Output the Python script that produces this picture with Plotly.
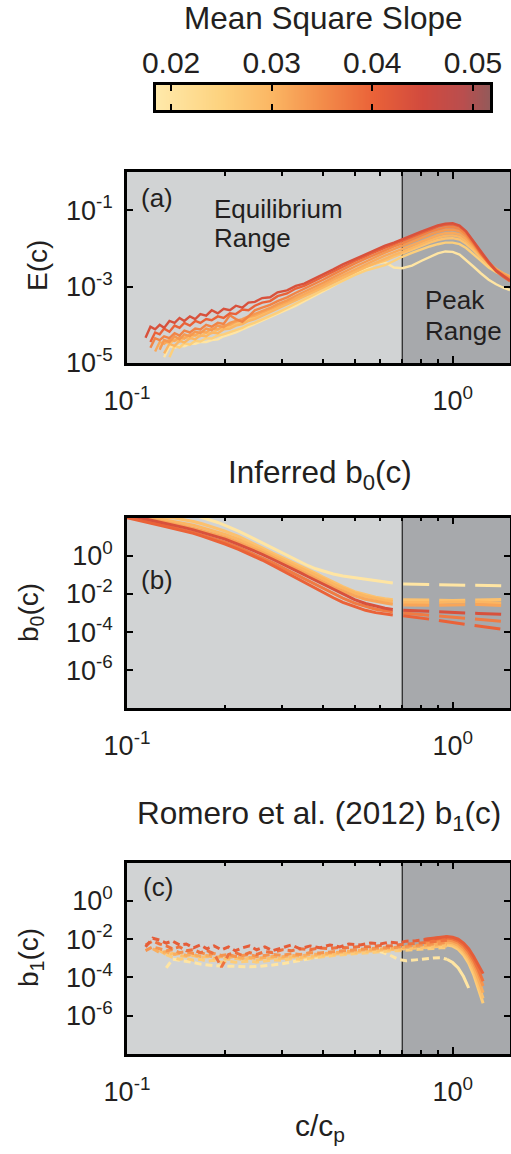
import math
import plotly.graph_objects as go
from plotly.colors import sample_colorscale

W, H = 511, 1154
FONT = "Liberation Sans, Arial, Helvetica, sans-serif"
INK = "#231F20"

# ---------------- colour scale: mean square slope ----------------
mss_min, mss_max = 0.0185, 0.0517
mss_scale = [
    [0.000, "#FFE9AA"], [0.196, "#FDD27E"], [0.346, "#FBB663"],
    [0.497, "#F38C4A"], [0.648, "#EA6238"], [0.798, "#D14A3E"],
    [0.919, "#B94E4E"], [1.000, "#935A5A"],
]
cbar_ticks = [0.02, 0.03, 0.04, 0.05]
cbar_ticktext = ["0.02", "0.03", "0.04", "0.05"]

# ---------------- (a) spectra E(c), values are log10 E ----------------
c_a = [0.114, 0.118, 0.122, 0.126, 0.13, 0.135, 0.14, 0.145, 0.15, 0.156,
       0.162, 0.168, 0.175, 0.182, 0.19, 0.198, 0.207, 0.216, 0.226, 0.236,
       0.247, 0.26, 0.275, 0.29, 0.31, 0.33, 0.35, 0.375, 0.40, 0.43,
       0.46, 0.50, 0.54, 0.58, 0.62, 0.66, 0.70, 0.75, 0.80, 0.85,
       0.90, 0.95, 1.00, 1.05, 1.10, 1.16, 1.22, 1.29, 1.36, 1.43, 1.50]
mss_a = [0.0195, 0.0255, 0.028, 0.030, 0.0315, 0.0335, 0.036, 0.040, 0.0435]
logE_1 = [None, None, None, None, -4.85, -4.56, -4.60, -4.55, -4.56, -4.50,
          -4.50, -4.45, -4.45, -4.40, -4.38, -4.30, -4.25, -4.20, -4.12, -4.05,
          -3.97, -3.88, -3.80, -3.70, -3.60, -3.50, -3.38, -3.25, -3.12, -2.98,
          -2.84, -2.68, -2.52, -2.40, -2.36, -2.50, -2.52, -2.45, -2.33, -2.22,
          -2.13, -2.08, -2.09, -2.16, -2.30, -2.48, -2.65, -2.82, -2.94, -3.03, -3.09]
logE_2 = [None, None, None, None, None, -4.85, -4.55, -4.60, -4.48, -4.52,
          -4.42, -4.44, -4.35, -4.36, -4.28, -4.25, -4.20, -4.14, -4.08, -4.00,
          -3.94, -3.86, -3.77, -3.68, -3.56, -3.45, -3.34, -3.21, -3.09, -2.96,
          -2.84, -2.70, -2.58, -2.50, -2.44, -2.33, -2.22, -2.12, -2.03, -1.95,
          -1.89, -1.85, -1.85, -1.89, -1.99, -2.15, -2.32, -2.50, -2.62, -2.71, -2.78]
logE_3 = [None, None, None, -4.60, -4.42, -4.50, -4.38, -4.44, -4.32, -4.36,
          -4.26, -4.30, -4.20, -4.22, -4.12, -4.10, -4.04, -3.98, -3.94, -3.86,
          -3.80, -3.72, -3.64, -3.55, -3.44, -3.34, -3.24, -3.12, -3.00, -2.87,
          -2.75, -2.61, -2.49, -2.40, -2.32, -2.22, -2.13, -2.03, -1.93, -1.85,
          -1.78, -1.74, -1.73, -1.77, -1.88, -2.05, -2.24, -2.43, -2.57, -2.67, -2.74]
logE_4 = [None, None, None, None, -4.75, -4.50, -4.55, -4.42, -4.46, -4.35,
          -4.38, -4.28, -4.30, -4.20, -4.22, -4.12, -4.10, -4.02, -3.98, -3.90,
          -3.85, -3.76, -3.68, -3.58, -3.47, -3.36, -3.26, -3.14, -3.02, -2.88,
          -2.76, -2.62, -2.49, -2.37, -2.26, -2.17, -2.09, -1.98, -1.88, -1.79,
          -1.72, -1.67, -1.66, -1.70, -1.81, -1.99, -2.19, -2.39, -2.54, -2.65, -2.73]
logE_5 = [None, None, -4.70, -4.45, -4.50, -4.38, -4.42, -4.32, -4.36, -4.25,
          -4.28, -4.18, -4.20, -4.10, -4.12, -4.02, -4.00, -3.92, -3.88, -3.80,
          -3.76, -3.68, -3.60, -3.50, -3.40, -3.30, -3.20, -3.08, -2.96, -2.82,
          -2.70, -2.55, -2.42, -2.30, -2.19, -2.10, -2.02, -1.91, -1.81, -1.72,
          -1.65, -1.60, -1.59, -1.63, -1.75, -1.95, -2.17, -2.38, -2.54, -2.66, -2.75]
logE_6 = [None, None, None, -4.65, -4.40, -4.45, -4.30, -4.38, -4.25, -4.30,
          -4.18, -4.22, -4.10, -4.14, -4.02, -4.06, -3.95, -3.90, -3.85, -3.78,
          -3.72, -3.64, -3.56, -3.46, -3.36, -3.24, -3.14, -3.02, -2.90, -2.76,
          -2.63, -2.48, -2.35, -2.22, -2.11, -2.02, -1.94, -1.83, -1.73, -1.64,
          -1.57, -1.52, -1.51, -1.55, -1.68, -1.91, -2.15, -2.38, -2.56, -2.68, -2.78]
logE_7 = [None, -4.60, -4.35, -4.40, -4.30, -4.35, -4.22, -4.28, -4.15, -4.20,
          -4.10, -4.12, -4.00, -4.05, -3.95, -3.98, -3.75, -3.85, -3.92, -3.78,
          -3.62, -3.55, -3.48, -3.38, -3.28, -3.16, -3.06, -2.94, -2.82, -2.68,
          -2.55, -2.40, -2.27, -2.15, -2.04, -1.95, -1.87, -1.76, -1.66, -1.57,
          -1.50, -1.45, -1.44, -1.49, -1.63, -1.88, -2.14, -2.38, -2.57, -2.71, -2.81]
logE_8 = [None, -4.45, -4.20, -4.25, -4.10, -4.18, -4.02, -4.08, -3.95, -4.02,
          -3.90, -3.95, -3.85, -3.88, -3.78, -3.82, -3.70, -3.72, -3.60, -3.62,
          -3.50, -3.42, -3.38, -3.25, -3.18, -3.05, -2.98, -2.86, -2.74, -2.60,
          -2.48, -2.33, -2.20, -2.08, -1.98, -1.89, -1.81, -1.70, -1.60, -1.51,
          -1.43, -1.38, -1.37, -1.42, -1.57, -1.84, -2.12, -2.38, -2.60, -2.74, -2.86]
logE_9 = [-4.34, -4.05, -4.12, -4.00, -4.08, -3.90, -3.95, -3.82, -3.90, -3.78,
          -3.85, -3.72, -3.76, -3.62, -3.70, -3.58, -3.62, -3.50, -3.55, -3.42,
          -3.40, -3.30, -3.28, -3.15, -3.10, -2.98, -2.92, -2.80, -2.68, -2.55,
          -2.42, -2.28, -2.15, -2.03, -1.93, -1.85, -1.77, -1.66, -1.56, -1.47,
          -1.40, -1.35, -1.34, -1.40, -1.55, -1.82, -2.08, -2.35, -2.58, -2.72, -2.84]
logE_a = [logE_1, logE_2, logE_3, logE_4, logE_5, logE_6, logE_7, logE_8, logE_9]

# ---------------- (b) inferred b0(c), values are log10 b0 ----------------
c_b_eq = [0.10, 0.11, 0.12, 0.13, 0.14, 0.15, 0.16, 0.17, 0.18, 0.19,
          0.20, 0.22, 0.24, 0.26, 0.28, 0.30, 0.32, 0.34, 0.36, 0.38,
          0.40, 0.43, 0.46, 0.50, 0.54, 0.58, 0.62, 0.655]
c_b_pk = [0.705, 0.80, 0.90, 1.00, 1.10, 1.20, 1.30, 1.45]
mss_b = [0.0195, 0.028, 0.030, 0.032, 0.0435, 0.037, 0.040]
logb0_eq = [
    [3.0, 2.8, 2.65, 2.5, 2.4, 2.3, 2.15, 2.02, 1.9, 1.75, 1.6, 1.3, 0.98, 0.68,
     0.4, 0.12, -0.12, -0.34, -0.52, -0.68, -0.8, -0.95, -1.06, -1.15, -1.24, -1.33, -1.40, -1.43],
    [2.3, 2.2, 2.1, 2.02, 1.98, 1.9, 1.8, 1.68, 1.55, 1.42, 1.3, 1.02, 0.72, 0.42,
     0.14, -0.1, -0.3, -0.5, -0.72, -0.92, -1.12, -1.4, -1.62, -1.88, -2.05, -2.17, -2.25, -2.30],
    [2.25, 2.12, 2.0, 1.9, 1.82, 1.72, 1.6, 1.48, 1.36, 1.24, 1.12, 0.86, 0.58, 0.3,
     0.04, -0.2, -0.4, -0.6, -0.82, -1.02, -1.2, -1.48, -1.7, -1.95, -2.12, -2.25, -2.34, -2.40],
    [2.2, 2.05, 1.92, 1.8, 1.68, 1.56, 1.44, 1.32, 1.2, 1.08, 0.96, 0.7, 0.44, 0.18,
     -0.08, -0.32, -0.54, -0.76, -0.98, -1.18, -1.36, -1.64, -1.86, -2.1, -2.28, -2.4, -2.48, -2.54],
    [2.15, 2.0, 1.86, 1.72, 1.6, 1.48, 1.36, 1.24, 1.12, 1.0, 0.88, 0.6, 0.34, 0.08,
     -0.18, -0.42, -0.66, -0.88, -1.1, -1.3, -1.5, -1.78, -2.02, -2.3, -2.5, -2.65, -2.75, -2.82],
    [2.05, 1.9, 1.74, 1.6, 1.46, 1.34, 1.22, 1.08, 0.96, 0.84, 0.72, 0.44, 0.16, -0.1,
     -0.36, -0.62, -0.86, -1.08, -1.3, -1.5, -1.7, -1.98, -2.22, -2.48, -2.66, -2.8, -2.88, -2.94],
    [2.0, 1.85, 1.7, 1.55, 1.42, 1.3, 1.18, 1.03, 0.9, 0.76, 0.62, 0.34, 0.06, -0.22,
     -0.5, -0.78, -1.04, -1.28, -1.5, -1.72, -1.92, -2.2, -2.44, -2.68, -2.86, -2.98, -3.06, -3.11],
]
logb0_pk = [
    [-1.48, -1.50, -1.52, -1.53, -1.54, -1.55, -1.56, -1.58],
    [-2.30, -2.32, -2.35, -2.34, -2.33, -2.32, -2.30, -2.28],
    [-2.45, -2.47, -2.45, -2.42, -2.40, -2.42, -2.45, -2.48],
    [-2.58, -2.60, -2.60, -2.58, -2.55, -2.55, -2.58, -2.62],
    [-2.85, -2.90, -2.95, -2.98, -3.00, -3.02, -3.05, -3.08],
    [-3.00, -3.08, -3.15, -3.22, -3.28, -3.34, -3.40, -3.45],
    [-3.15, -3.25, -3.38, -3.50, -3.60, -3.70, -3.78, -3.88],
]

# ---------------- (c) Romero et al. (2012) b1(c), values are log10 b1 ----------------
c_c_eq = [0.114, 0.12, 0.126, 0.132, 0.138, 0.145, 0.152, 0.16, 0.168, 0.176,
          0.185, 0.195, 0.205, 0.215, 0.226, 0.238, 0.25, 0.265, 0.28, 0.30,
          0.32, 0.34, 0.365, 0.39, 0.42, 0.45, 0.48, 0.52, 0.56, 0.60,
          0.64, 0.68, 0.72, 0.77, 0.82, 0.87, 0.92, 0.96]
c_c_pk = [0.82, 0.87, 0.92, 0.96, 1.00, 1.04, 1.08, 1.12, 1.16, 1.20, 1.24]
mss_c = [0.0195, 0.026, 0.028, 0.031, 0.034, 0.038, 0.041]
logb1_eq = [
    [None, None, None, -3.50, -3.05, -3.10, -3.15, -3.22, -3.30, -3.35,
     -3.38, -3.40, -3.42, -3.43, -3.43, -3.44, -3.43, -3.40, -3.35, -3.28,
     -3.20, -3.12, -3.02, -2.92, -2.80, -2.70, -2.62, -2.56, -2.56, -2.65,
     -2.82, -3.05, -3.13, -3.08, -3.02, -2.98, -2.97, -3.05],
    [None, None, None, -2.80, -2.95, -3.05, -3.00, -3.10, -3.05, -3.15,
     -3.10, -3.20, -3.15, -3.20, -3.18, -3.15, -3.20, -3.12, -3.08, -3.10,
     -3.02, -3.05, -2.98, -2.95, -2.88, -2.82, -2.78, -2.72, -2.68, -2.64,
     -2.62, -2.60, -2.58, -2.55, -2.50, -2.48, -2.45, -2.45],
    [None, None, -2.60, -2.80, -2.75, -2.85, -2.90, -2.85, -2.95, -2.90,
     -3.00, -2.95, -3.05, -3.00, -3.05, -3.00, -3.08, -3.02, -2.98, -3.00,
     -2.92, -2.95, -2.88, -2.85, -2.80, -2.75, -2.70, -2.65, -2.62, -2.58,
     -2.55, -2.52, -2.50, -2.47, -2.42, -2.40, -2.36, -2.35],
    [None, -2.50, -2.70, -2.65, -2.80, -2.75, -2.85, -2.80, -2.90, -2.85,
     -2.95, -2.90, -2.95, -2.90, -3.00, -2.95, -3.00, -2.95, -2.90, -2.92,
     -2.85, -2.88, -2.80, -2.78, -2.72, -2.68, -2.62, -2.58, -2.55, -2.50,
     -2.48, -2.45, -2.42, -2.40, -2.35, -2.32, -2.28, -2.25],
    [-2.60, -2.40, -2.50, -2.60, -2.55, -2.70, -2.65, -2.75, -2.70, -2.80,
     -2.75, -2.85, -2.80, -2.90, -2.85, -2.80, -2.90, -2.85, -2.80, -2.85,
     -2.75, -2.80, -2.70, -2.72, -2.65, -2.62, -2.58, -2.52, -2.50, -2.45,
     -2.45, -2.40, -2.35, -2.33, -2.28, -2.25, -2.20, -2.18],
    [-2.30, -2.10, -2.25, -2.35, -2.50, -2.40, -2.60, -2.55, -2.70, -2.60,
     -2.75, -3.45, -2.80, -2.70, -2.85, -2.70, -2.80, -2.65, -2.70, -2.55,
     -2.60, -2.50, -2.55, -2.45, -2.50, -2.42, -2.45, -2.38, -2.40, -2.33,
     -2.35, -2.28, -2.25, -2.22, -2.17, -2.12, -2.08, -2.05],
    [-2.40, -1.95, -2.05, -2.20, -2.10, -2.30, -2.25, -2.45, -2.30, -2.50,
     -2.35, -2.55, -2.40, -2.60, -2.45, -2.35, -2.55, -2.40, -2.60, -2.45,
     -2.30, -2.50, -2.35, -2.45, -2.30, -2.40, -2.25, -2.30, -2.20, -2.25,
     -2.15, -2.20, -2.10, -2.08, -2.02, -1.97, -1.90, -1.88],
]
logb1_pk = [
    [None, None, None, -3.05, -3.22, -3.50, -3.95, -4.55, None, None, None],
    [-2.45, -2.38, -2.32, -2.30, -2.36, -2.52, -2.82, -3.25, -3.85, -4.60, -5.35],
    [-2.38, -2.30, -2.24, -2.22, -2.27, -2.42, -2.70, -3.10, -3.65, -4.35, -5.10],
    [-2.30, -2.22, -2.16, -2.14, -2.18, -2.32, -2.58, -2.95, -3.45, -4.10, -4.80],
    [-2.20, -2.12, -2.06, -2.04, -2.08, -2.20, -2.45, -2.80, -3.25, -3.80, -4.45],
    [-2.10, -2.02, -1.96, -1.94, -1.98, -2.10, -2.32, -2.65, -3.08, -3.60, -4.20],
    [-2.00, -1.94, -1.88, -1.86, -1.90, -2.00, -2.20, -2.50, -2.90, -3.35, -3.80],
]

# ---------------- axes labels ----------------
x_tickvals = [0.1, 1.0]
x_ticktext = ["10<sup>-1</sup>", "10<sup>0</sup>"]
x_minor = [0.2, 0.3, 0.4, 0.5, 0.6, 0.7, 0.8, 0.9]
ya_tickvals = [1e-5, 1e-3, 1e-1]
ya_ticktext = ["10<sup>-5</sup>", "10<sup>-3</sup>", "10<sup>-1</sup>"]
yb_tickvals = [1e-6, 1e-4, 1e-2, 1e0]
yb_ticktext = ["10<sup>-6</sup>", "10<sup>-4</sup>", "10<sup>-2</sup>", "10<sup>0</sup>"]
c_split = 0.7
x_lo, x_hi = 0.1, 1.5

LIGHT, DARK = "#D1D3D4", "#A7A9AC"


def colour(m):
    return sample_colorscale(mss_scale, [(m - mss_min) / (mss_max - mss_min)])[0]


def pow10(vals):
    return [None if v is None else 10 ** v for v in vals]


fig = go.Figure()

# (a) spectra
for m, ys in sorted(zip(mss_a, logE_a), key=lambda t: t[0]):
    fig.add_trace(go.Scatter(x=c_a, y=pow10(ys), mode="lines", xaxis="x", yaxis="y",
                             line=dict(color=colour(m), width=2.4), connectgaps=False,
                             showlegend=False, hoverinfo="skip"))

# (b) solid in the equilibrium range, dashed in the peak range
for m, ye, yp in sorted(zip(mss_b, logb0_eq, logb0_pk), key=lambda t: t[0]):
    col = colour(m)
    fig.add_trace(go.Scatter(x=c_b_eq, y=pow10(ye), mode="lines", xaxis="x2", yaxis="y2",
                             line=dict(color=col, width=3), showlegend=False, hoverinfo="skip"))
    fig.add_trace(go.Scatter(x=c_b_pk, y=pow10(yp), mode="lines", xaxis="x2", yaxis="y2",
                             line=dict(color=col, width=3, dash="26px,10px"),
                             showlegend=False, hoverinfo="skip"))

# (c) short dashes up to the peak, solid roll-off beyond it
for m, ye, yp in sorted(zip(mss_c, logb1_eq, logb1_pk), key=lambda t: t[0]):
    col = colour(m)
    fig.add_trace(go.Scatter(x=c_c_eq, y=pow10(ye), mode="lines", xaxis="x3", yaxis="y3",
                             line=dict(color=col, width=3, dash="7px,4px"),
                             showlegend=False, hoverinfo="skip"))
    fig.add_trace(go.Scatter(x=c_c_pk, y=pow10(yp), mode="lines", xaxis="x3", yaxis="y3",
                             line=dict(color=col, width=3), showlegend=False, hoverinfo="skip"))

# colour bar: the scale end points, smoothed across its own axis
fig.add_trace(go.Heatmap(x=[mss_min, mss_max], y=[0, 1],
                         z=[[mss_min, mss_max], [mss_min, mss_max]],
                         zmin=mss_min, zmax=mss_max, colorscale=mss_scale, zsmooth="best",
                         showscale=False, hoverinfo="skip", xaxis="x4", yaxis="y4"))

panels = {"": (172, 363), "2": (517.7, 708.3), "3": (862.7, 1054)}
x_dom = [127 / W, 510 / W]
axis_common = dict(showline=True, linewidth=2.5, linecolor="black", mirror="ticks",
                   ticks="inside", tickwidth=2, tickcolor="black", showgrid=False,
                   zeroline=False, automargin=False,
                   tickfont=dict(family=FONT, size=27, color=INK))

layout = dict(template="none", width=W, height=H,
              margin=dict(l=0, r=0, t=0, b=0, autoexpand=False),
              paper_bgcolor="white", plot_bgcolor=LIGHT, showlegend=False,
              font=dict(family=FONT, color=INK))
for k, (top, bot) in panels.items():
    layout["xaxis" + k] = dict(axis_common, type="log",
                               range=[math.log10(x_lo), math.log10(x_hi)],
                               domain=x_dom, anchor="y" + k, tickmode="array",
                               tickvals=x_tickvals, ticktext=x_ticktext, ticklen=7,
                               ticklabelstandoff=12,
                               minor=dict(tickvals=x_minor, ticks="inside", ticklen=4,
                                          tickwidth=1.5, tickcolor="black"))
    if k == "":
        yr, tv, tt = [-5, 0], ya_tickvals, ya_ticktext
    else:
        yr, tv, tt = [-8, 2], yb_tickvals, yb_ticktext
    layout["yaxis" + k] = dict(axis_common, type="log", range=yr, anchor="x" + k,
                               domain=[1 - bot / H, 1 - top / H], tickmode="array",
                               tickvals=tv, ticktext=tt, ticklen=6, ticklabelstandoff=6)

# colour bar axes
layout["xaxis4"] = dict(axis_common, range=[mss_min, mss_max], domain=[156 / W, 490 / W],
                        anchor="y4", side="top", tickmode="array", tickvals=cbar_ticks,
                        ticktext=cbar_ticktext, ticklen=6, ticklabelstandoff=-3,
                        tickfont=dict(family=FONT, size=30, color=INK))
layout["yaxis4"] = dict(showline=True, linewidth=2.5, linecolor="black", mirror=True,
                        range=[0, 1], domain=[1 - 110 / H, 1 - 85 / H], anchor="x4",
                        showticklabels=False, ticks="", showgrid=False, zeroline=False,
                        automargin=False)

shapes = []
for k in panels:
    xr, yr = "x" + k, "y" + k
    shapes.append(dict(type="rect", xref=xr, yref=yr + " domain", x0=c_split, x1=x_hi,
                       y0=0, y1=1, fillcolor=DARK, line=dict(width=0), layer="below"))
    shapes.append(dict(type="line", xref=xr, yref=yr + " domain", x0=c_split, x1=c_split,
                       y0=0, y1=1, line=dict(color="black", width=1), layer="below"))
layout["shapes"] = shapes


def ann(text, x, y, size, **kw):
    d = dict(text=text, x=x / W, y=1 - y / H, xref="paper", yref="paper", showarrow=False,
             font=dict(family=FONT, size=size, color=INK), xanchor="center", yanchor="middle")
    d.update(kw)
    return d


layout["annotations"] = [
    ann("Mean Square Slope", 323, 18, 31.5),
    ann("Inferred b<sub>0</sub>(c)", 320, 474, 31.5),
    ann("Romero et al. (2012) b<sub>1</sub>(c)", 319, 815, 31.5),
    ann("E(c)", 37, 266, 28, textangle=-90),
    ann("b<sub>0</sub>(c)", 30, 613, 28, textangle=-90),
    ann("b<sub>1</sub>(c)", 30, 958, 28, textangle=-90),
    ann("c/c<sub>p</sub>", 320, 1127, 30),
    ann("(a)", 157, 198, 26),
    ann("(b)", 157, 580, 26),
    ann("(c)", 158, 887, 26),
    ann("Equilibrium", 212, 209, 26, xanchor="left"),
    ann("Range", 212, 238, 26, xanchor="left"),
    ann("Peak", 423, 300, 26, xanchor="left"),
    ann("Range", 423, 331, 26, xanchor="left"),
]

fig.update_layout(**layout)
fig.write_html("out.html")
